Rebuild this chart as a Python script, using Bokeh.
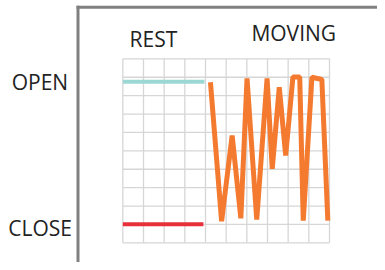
from bokeh.plotting import figure
from bokeh.models import Range1d
from bokeh.core.properties import value
from bokeh.embed import file_html
from bokeh.resources import INLINE

# ---- data (grid units: 10 columns x 10 rows) ----
grid_cols = [0, 1, 2, 3, 4, 5, 6, 7, 8, 9, 10]
grid_rows = [0, 1, 2, 3, 4, 5, 6, 7, 8, 9, 10]

rest_x = [0.0, 3.95]
rest_open_y = [8.75, 8.75]
rest_close_x = [0.0, 3.9]
rest_close_y = [1.01, 1.01]

moving_x = [4.24, 4.78, 5.29, 5.71, 6.01, 6.48, 6.98, 7.23, 7.57, 7.88,
            8.23, 8.56, 8.73, 9.15, 9.63, 9.92]
moving_y = [8.73, 1.17, 5.83, 1.33, 8.94, 1.26, 8.94, 4.02, 8.46, 4.74,
            9.01, 9.01, 1.21, 9.00, 8.88, 1.21]

state_labels = ["OPEN", "CLOSE"]
state_label_x = [-4.01, -4.0]
state_label_y = [8.76, 0.83]

phase_labels = ["REST", "MOVING"]
phase_label_x = [1.48, 8.27]
phase_label_y = [11.10, 11.40]

W, H = 377, 262
p = figure(width=W, height=H, output_backend="svg", toolbar_location=None,
           x_axis_location=None, y_axis_location=None,
           x_range=Range1d(-5.919, 12.323), y_range=Range1d(-1.069, 13.170),
           min_border=0, min_border_left=0, min_border_right=0,
           min_border_top=0, min_border_bottom=0)
p.outline_line_color = None
p.background_fill_color = "white"
p.border_fill_color = "white"
p.grid.grid_line_color = None

# grid
p.segment(x0=grid_cols, y0=[grid_rows[0]] * len(grid_cols),
          x1=grid_cols, y1=[grid_rows[-1]] * len(grid_cols),
          line_color="#d6d6d6", line_width=1.3)
p.segment(x0=[grid_cols[0]] * len(grid_rows), y0=grid_rows,
          x1=[grid_cols[-1]] * len(grid_rows), y1=grid_rows,
          line_color="#d6d6d6", line_width=1.3)

# frame (top and left)
p.segment(x0=[-2.24], y0=[12.80], x1=[12.6], y1=[12.80], line_color="#808080", line_width=3)
p.segment(x0=[-2.169], y0=[12.88], x1=[-2.169], y1=[-1.2], line_color="#808080", line_width=3)

# rest lines
p.line(rest_x, rest_open_y, line_color="#9bd7d3", line_width=4)
p.line(rest_close_x, rest_close_y, line_color="#e8303a", line_width=4)

# moving line
p.line(moving_x, moving_y, line_color="#f47a30", line_width=5)

# labels
p.text(x=state_label_x, y=state_label_y, text=state_labels,
       text_font=value("Open Sans"), text_font_size="21px", text_color="#222222",
       text_align="center", text_baseline="alphabetic")
p.text(x=phase_label_x, y=phase_label_y, text=phase_labels,
       text_font=value("Open Sans"), text_font_size="21px", text_color="#222222",
       text_align="center", text_baseline="alphabetic")

open("out.html", "w").write(file_html(p, INLINE))
